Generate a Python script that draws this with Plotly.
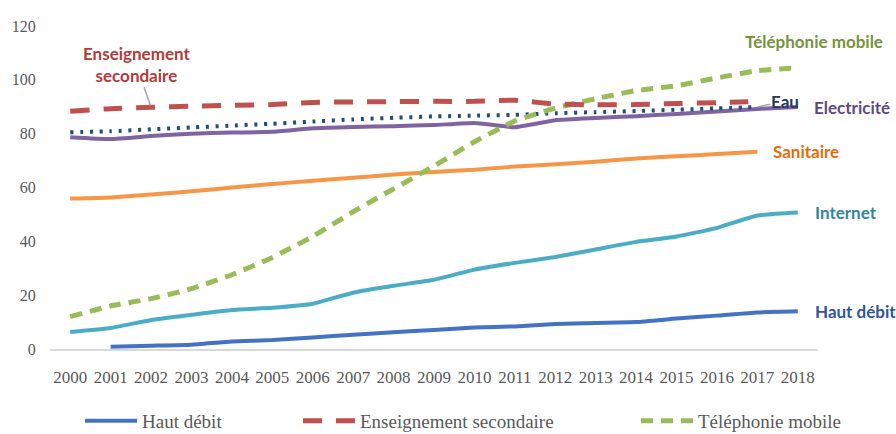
import plotly.graph_objects as go

# Years on the horizontal axis
years = [2000, 2001, 2002, 2003, 2004, 2005, 2006, 2007, 2008, 2009,
         2010, 2011, 2012, 2013, 2014, 2015, 2016, 2017, 2018]
year_labels = [str(y) for y in years]
y_ticks = [0, 20, 40, 60, 80, 100, 120]

# Access rates (%) per indicator
haut_debit = [None, 0.8, 1.2, 1.6, 2.8, 3.3, 4.3, 5.3, 6.2, 7.1,
              8.0, 8.4, 9.3, 9.7, 10.0, 11.3, 12.4, 13.6, 14.0]
internet = [6.3, 7.8, 10.8, 12.7, 14.5, 15.3, 16.8, 20.9, 23.5, 25.7,
            29.5, 32.0, 34.2, 37.0, 39.8, 41.8, 45.0, 49.6, 50.7]
sanitaire = [55.9, 56.3, 57.4, 58.6, 60.0, 61.3, 62.5, 63.6, 64.8, 65.8,
             66.6, 67.8, 68.6, 69.6, 70.8, 71.6, 72.4, 73.3, None]
electricite = [78.7, 78.0, 79.1, 80.0, 80.4, 80.7, 82.0, 82.5, 82.8, 83.2,
               84.0, 82.4, 85.0, 85.8, 86.5, 87.3, 88.2, 89.2, 89.9]
eau = [80.5, 80.9, 81.6, 82.3, 83.0, 83.7, 84.5, 85.3, 85.9, 86.4,
       86.7, 87.0, 87.6, 88.0, 88.4, 88.9, 89.4, 89.9, None]
enseignement = [88.3, 89.3, 89.8, 90.2, 90.5, 90.8, 91.6, 91.8, 91.9, 92.0,
                92.0, 92.4, 91.0, 90.7, 90.8, 91.2, 91.5, 92.0, None]
telephonie = [12.0, 16.0, 18.7, 22.4, 27.6, 34.0, 41.8, 51.0, 59.5, 68.0,
              77.0, 84.7, 89.5, 93.0, 96.0, 97.8, 100.7, 103.4, 104.5]

C_HD = "#4472C4"
C_INT = "#4BACC6"
C_SAN = "#F79646"
C_ELEC = "#8064A2"
C_EAU = "#1F4E79"
C_ENS = "#C0504D"
C_TEL = "#9BBB59"

LABEL_FONT = "Lato"
AXIS_FONT = "Liberation Serif"
GREY = "#595959"

fig = go.Figure()

def add_line(values, color, width, dash, name, legend=None):
    fig.add_trace(go.Scatter(
        x=years, y=values, mode="lines", name=name,
        line=dict(color=color, width=width, dash=dash, shape="spline", smoothing=0.4),
        connectgaps=False,
        showlegend=legend is not None,
        legend=legend if legend else "legend",
        hoverinfo="skip",
    ))

add_line(sanitaire, C_SAN, 4, "solid", "Sanitaire")
add_line(internet, C_INT, 4, "solid", "Internet")
add_line(electricite, C_ELEC, 4, "solid", "Electricité")
add_line(eau, C_EAU, 4, "3px,6.7px", "Eau")
add_line(telephonie, C_TEL, 5, "12px,8px", "Téléphonie mobile", "legend3")
add_line(enseignement, C_ENS, 5, "19px,14px", "Enseignement secondaire", "legend2")
add_line(haut_debit, C_HD, 4, "solid", "Haut débit", "legend")

def end_label(text, x, y, color, xshift, yshift=0, xanchor="left"):
    fig.add_annotation(
        x=x, y=y, xref="x", yref="y", text=text, showarrow=False,
        xanchor=xanchor, yanchor="middle", xshift=xshift, yshift=yshift,
        font=dict(family=LABEL_FONT, size=17, color=color, weight="bold"),
    )

end_label("Haut débit", years[-1], haut_debit[-1], "#2F5597", 15)
end_label("Internet", years[-1], internet[-1], "#31859C", 15)
end_label("Sanitaire", years[-2], sanitaire[-2], "#E46C0A", 14)
end_label("Electricité", years[-1], electricite[-1], "#604A7B", 14)
end_label("Téléphonie mobile", years[-1], telephonie[-1], "#77933C", 16, 26, "center")

# Labels with leader lines
fig.add_annotation(
    x=years[-2], y=eau[-2], xref="x", yref="y", text="Eau",
    showarrow=True, arrowhead=0, arrowwidth=1.5, arrowcolor="#A6A6A6",
    ax=28, ay=-6, standoff=0,
    font=dict(family=LABEL_FONT, size=17, color="#1F3864", weight="bold"),
)
fig.add_annotation(
    x=years[2], y=enseignement[2], xref="x", yref="y",
    text="Enseignement<br>secondaire",
    showarrow=True, arrowhead=0, arrowwidth=1.5, arrowcolor="#A6A6A6",
    ax=-15, ay=-43, standoff=2,
    font=dict(family=LABEL_FONT, size=17, color="#B13C3A", weight="bold"),
)

legend_common = dict(
    orientation="h", xref="container", yref="container",
    yanchor="middle", xanchor="left", y=0.03,
    font=dict(family=AXIS_FONT, size=19, color=GREY),
    bgcolor="rgba(0,0,0,0)", itemwidth=52,
)

fig.update_layout(
    width=896, height=434,
    margin=dict(l=47, r=78, t=26, b=85),
    paper_bgcolor="white", plot_bgcolor="white",
    legend=dict(x=80 / 896, **legend_common),
    legend2=dict(x=298 / 896, **legend_common),
    legend3=dict(x=636 / 896, **legend_common),
    xaxis=dict(
        range=[1999.5, 2018.5], tickmode="array", tickvals=years, ticktext=year_labels,
        showgrid=False, zeroline=False, showline=True, linecolor="#D9D9D9", linewidth=1.5,
        ticks="outside", ticklen=12, tickcolor="rgba(0,0,0,0)",
        tickfont=dict(family=AXIS_FONT, size=17, color=GREY),
    ),
    yaxis=dict(
        range=[0, 120], tickmode="array", tickvals=y_ticks,
        showgrid=False, zeroline=False, showline=False,
        ticks="outside", ticklen=10, tickcolor="rgba(0,0,0,0)",
        tickfont=dict(family=AXIS_FONT, size=16, color=GREY),
    ),
)

fig.write_html("out.html")
